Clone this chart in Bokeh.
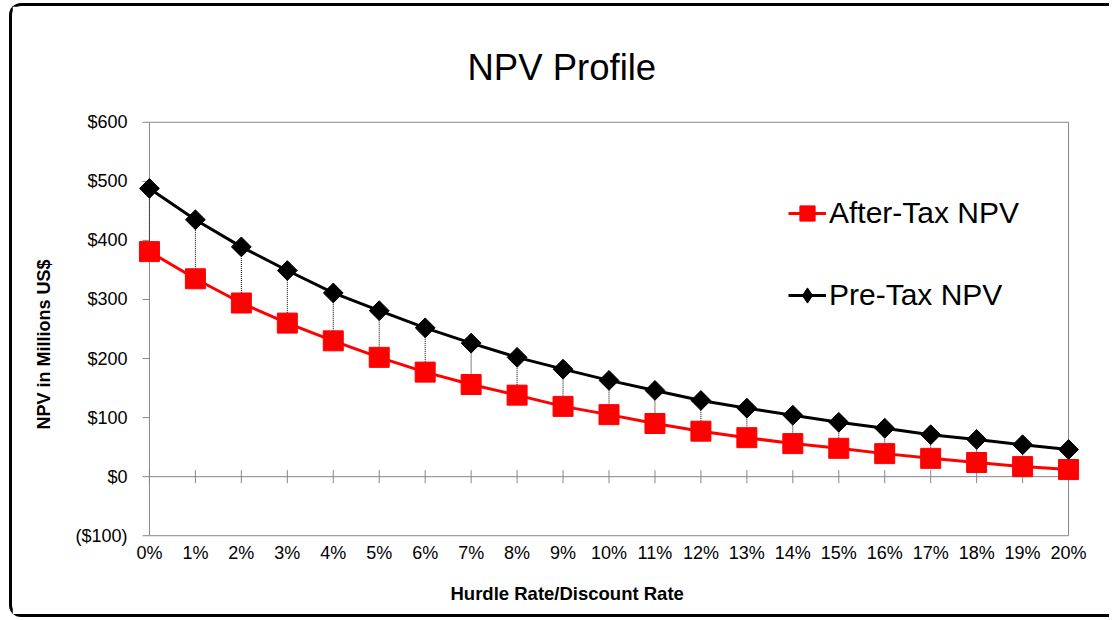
import math
from bokeh.plotting import figure
from bokeh.models import (Range1d, FixedTicker, Legend, LegendItem, Title,
                          ColumnDataSource)
from bokeh.embed import file_html
from bokeh.resources import INLINE

# ---- data ----
rates = [0, 1, 2, 3, 4, 5, 6, 7, 8, 9, 10, 11, 12, 13, 14, 15, 16, 17, 18, 19, 20]
x_labels = ["0%", "1%", "2%", "3%", "4%", "5%", "6%", "7%", "8%", "9%", "10%",
            "11%", "12%", "13%", "14%", "15%", "16%", "17%", "18%", "19%", "20%"]
after_tax = [381, 335, 294, 260, 230, 202, 177, 156, 138, 119, 105,
             90, 77, 66, 56, 48, 39, 31, 24, 17, 12]
pre_tax = [488, 435, 389, 349, 311, 281, 252, 226, 202, 182, 163,
           146, 129, 116, 104, 92, 82, 71, 63, 54, 46]
y_ticks = [-100, 0, 100, 200, 300, 400, 500, 600]
y_labels = ["($100)", "$0", "$100", "$200", "$300", "$400", "$500", "$600"]

FONT = "Liberation Sans"
GRAY = "#868686"
RED = "#FF0000"
X_PAD = 0.26      # room so end markers are not clipped
Y_PAD = 3
TICK = 0.15       # outward y tick length (x data units, ~7px)

x_lo, x_hi = rates[0], rates[-1]
y_lo, y_hi = y_ticks[0], y_ticks[-1]

p = figure(width=1100, height=614,
           x_range=Range1d(x_lo - X_PAD, x_hi + X_PAD),
           y_range=Range1d(y_lo - Y_PAD, y_hi + Y_PAD),
           output_backend="svg", toolbar_location=None,
           min_border_left=125, min_border_right=32,
           min_border_top=114, min_border_bottom=83)
p.styles = {"margin-left": "9px", "margin-top": "3px",
            "border-top": "3px solid black", "border-left": "3px solid black",
            "border-bottom": "3px solid black",
            "border-top-left-radius": "12px", "border-bottom-left-radius": "12px"}
p.outline_line_color = None
p.xgrid.visible = False
p.ygrid.visible = False
p.background_fill_color = "white"
p.border_fill_color = "white"

# plot-area frame (left, top, right, bottom) and zero line
p.segment(x0=[x_lo, x_lo, x_hi, x_lo, x_lo], y0=[y_lo, y_hi, y_lo, y_lo, 0],
          x1=[x_lo, x_hi, x_hi, x_hi, x_hi], y1=[y_hi, y_hi, y_hi, y_lo, 0],
          line_color=GRAY, line_width=1)
# outward y tick marks
p.segment(x0=[x_lo - TICK] * len(y_ticks), y0=y_ticks,
          x1=[x_lo] * len(y_ticks), y1=y_ticks, line_color=GRAY, line_width=1)
# cross tick marks on the zero line
p.scatter(x=rates, y=[0] * len(rates), marker="dash", angle=math.pi / 2,
          size=13, line_color=GRAY, line_width=1)

# drop lines
p.segment(x0=rates, y0=after_tax, x1=rates, y1=pre_tax,
          line_color="black", line_width=1, line_dash="1 1")

src = ColumnDataSource(data=dict(rate=rates, after=after_tax, pre=pre_tax))

r1 = p.line("rate", "after", source=src, line_color=RED, line_width=3)
s1 = p.scatter("rate", "after", source=src, marker="square", size=20,
               fill_color=RED, line_color=RED)
r2 = p.line("rate", "pre", source=src, line_color="black", line_width=3)
s2 = p.scatter("rate", "pre", source=src, marker="square", angle=math.pi / 4,
               size=14, fill_color="black", line_color="black")
# diamond swatch for the legend (zero size in the plot itself)
s2_key = p.scatter("rate", "pre", source=src, marker="diamond", size=0,
                   fill_color="black", line_color="black")

legend = Legend(items=[LegendItem(label="After-Tax NPV", renderers=[r1, s1]),
                       LegendItem(label="Pre-Tax NPV", renderers=[r2, s2_key])],
                location=(651, 222), padding=0, margin=0, spacing=42,
                glyph_width=38, glyph_height=40, label_height=40,
                label_standoff=3, label_text_font_size="30px",
                label_text_font=FONT, label_text_color="black",
                border_line_color=None, background_fill_alpha=0)
p.add_layout(legend)

# y axis (labels only; line and ticks drawn above at x = 0)
ya = p.yaxis[0]
ya.ticker = FixedTicker(ticks=y_ticks)
ya.major_label_overrides = dict(zip(y_ticks, y_labels))
ya.minor_tick_line_color = None
ya.major_tick_line_color = None
ya.major_tick_out = 0
ya.major_tick_in = 0
ya.axis_line_color = None
ya.major_label_text_font = FONT
ya.major_label_text_font_size = "18px"
ya.major_label_text_color = "black"
ya.major_label_standoff = 10

# x axis (category labels at the bottom)
xa = p.xaxis[0]
xa.ticker = FixedTicker(ticks=rates)
xa.major_label_overrides = dict(zip(rates, x_labels))
xa.minor_tick_line_color = None
xa.major_tick_line_color = None
xa.major_tick_out = 0
xa.major_tick_in = 0
xa.axis_line_color = None
xa.major_label_text_font = FONT
xa.major_label_text_font_size = "18px"
xa.major_label_text_color = "black"
xa.major_label_standoff = 5

# titles
p.title.text = "NPV Profile"
p.title.text_font = FONT
p.title.text_font_size = "36.5px"
p.title.text_font_style = "normal"
p.title.text_color = "black"
p.title.align = "left"
p.title.offset = 330
p.title.standoff = 65

p.add_layout(Title(text="Hurdle Rate/Discount Rate", text_font=FONT,
                   text_font_size="18.5px", text_font_style="bold",
                   text_color="black", align="left", offset=313,
                   vertical_align="bottom", standoff=30), "below")
p.add_layout(Title(text="NPV in Millions US$", text_font=FONT,
                   text_font_size="18px", text_font_style="bold",
                   text_color="black", align="left", offset=108,
                   vertical_align="bottom", standoff=38), "left")

open("out.html", "w").write(file_html(p, INLINE))
